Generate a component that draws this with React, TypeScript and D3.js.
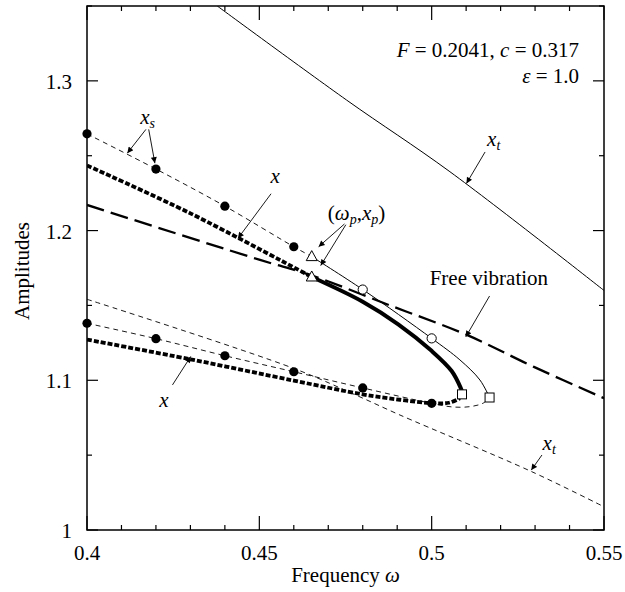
import React from "react";
import * as d3 from "d3";

type P = [number, number];

// ---- data ----
const xTickValues = d3.range(0, 16).map((i) => +(0.4 + i * 0.01).toFixed(2));
const xMajor = [0.4, 0.45, 0.5, 0.55];
const xTickLabels = ["0.4", "0.45", "0.5", "0.55"];
const yTickValues = d3.range(0, 8).map((i) => +(1 + i * 0.05).toFixed(2));
const yMajor = [1, 1.1, 1.2, 1.3];
const yTickLabels = ["1", "1.1", "1.2", "1.3"];

const xtUpper: P[] = [[0.4378, 1.35], [0.4753, 1.2872], [0.5053, 1.2393], [0.55, 1.16]];
const xtLower: P[] = [[0.4, 1.1541], [0.4599, 1.108], [0.4788, 1.0893], [0.4908, 1.0768], [0.529, 1.039], [0.55, 1.0155]];
const freeVibration: P[] = [[0.4, 1.2171], [0.4502, 1.1804], [0.4649, 1.1703], [0.4879, 1.150], [0.5102, 1.1303], [0.5295, 1.1091], [0.55, 1.088]];

const xUpperDotted: P[] = [[0.4, 1.2435], [0.43, 1.2115], [0.4652, 1.169]];
const xSolid: P[] = [[0.4652, 1.169], [0.48, 1.1525], [0.4903, 1.1374], [0.4998, 1.12], [0.5058, 1.1062], [0.5085, 1.0945], [0.5088, 1.0925]];
const xLowerDotted: P[] = [[0.4, 1.1272], [0.43, 1.114], [0.46, 1.0998], [0.48, 1.0906], [0.4908, 1.087], [0.5, 1.0848], [0.505, 1.085], [0.5082, 1.088]];

const xsUpperDashed: P[] = [[0.4, 1.2646], [0.42, 1.2411], [0.44, 1.2163], [0.46, 1.1892], [0.4652, 1.1826]];
const xsUpperSolid: P[] = [[0.4652, 1.1826], [0.48, 1.1606], [0.5, 1.128], [0.5082, 1.1136], [0.514, 1.1002], [0.5168, 1.0885]];
const xsLowerDashed: P[] = [[0.4, 1.1381], [0.42, 1.1278], [0.44, 1.1164], [0.46, 1.1057], [0.48, 1.0949], [0.5, 1.0846], [0.506, 1.0822], [0.5111, 1.0824], [0.515, 1.0848], [0.5168, 1.0885]];

const filledCircles: P[] = [[0.4, 1.2646], [0.42, 1.2411], [0.44, 1.2163], [0.46, 1.1892], [0.4, 1.1381], [0.42, 1.1278], [0.44, 1.1164], [0.46, 1.1057], [0.48, 1.0949], [0.5, 1.0846]];
const openCircles: P[] = [[0.48, 1.1606], [0.5, 1.128]];
const triangles: P[] = [[0.4652, 1.1826], [0.4652, 1.169]];
const squares: P[] = [[0.5088, 1.0906], [0.5168, 1.0885]];

// arrows: [from, to]
const arrows: [P, P][] = [
  [[0.4171, 1.2676], [0.4117, 1.2517]],
  [[0.4179, 1.2676], [0.4197, 1.245]],
  [[0.4534, 1.2246], [0.4438, 1.1948]],
  [[0.4747, 1.2044], [0.4672, 1.1892]],
  [[0.4751, 1.2039], [0.4678, 1.1766]],
  [[0.5155, 1.2525], [0.5101, 1.2315]],
  [[0.5168, 1.1563], [0.5099, 1.129]],
  [[0.4248, 1.0969], [0.4301, 1.1159]],
  [[0.532, 1.0501], [0.5289, 1.04]],
];

const W = 625, H = 592;
const L = 87, R = 604, T = 6, B = 530;
const FONT = '"Liberation Serif", "Times New Roman", Times, serif';
const FS = 21;
const SUB = 14;

export default function App() {
  const x = d3.scaleLinear().domain([0.4, 0.55]).range([L, R]);
  const y = d3.scaleLinear().domain([1, 1.35]).range([B, T]);
  const lineCR = d3.line<P>().x((d) => x(d[0])).y((d) => y(d[1])).curve(d3.curveCatmullRom.alpha(0.5));

  const isMajor = (v: number, arr: number[]) => arr.some((m) => Math.abs(m - v) < 1e-9);
  const tri = (cx: number, cy: number, s: number) =>
    `M${cx},${cy - s * 0.6}L${cx + s * 0.55},${cy + s * 0.4}L${cx - s * 0.55},${cy + s * 0.4}Z`;
  const ts: React.CSSProperties = { fontFamily: FONT };

  return (
    <svg width={W} height={H} style={{ position: "absolute", left: 0, top: 0, background: "#fff", fontFamily: FONT }}>
      <defs>
        <clipPath id="plot">
          <rect x={L} y={T} width={R - L} height={B - T} />
        </clipPath>
        <marker id="ah" viewBox="0 0 10 10" refX="10" refY="5" markerWidth="8" markerHeight="6" markerUnits="userSpaceOnUse" orient="auto">
          <path d="M0,0L10,5L0,10Z" fill="#000" />
        </marker>
      </defs>
      <rect width={W} height={H} fill="#fff" />

      <g clipPath="url(#plot)" fill="none" stroke="#000">
        <path d={lineCR(xtUpper) || ""} strokeWidth={1} />
        <path d={lineCR(xtLower) || ""} strokeWidth={0.9} strokeDasharray="5,4" />
        <path d={lineCR(freeVibration) || ""} strokeWidth={2.3} strokeDasharray="18,7" />
        <path d={lineCR(xsUpperDashed) || ""} strokeWidth={0.9} strokeDasharray="5,4" />
        <path d={lineCR(xsUpperSolid) || ""} strokeWidth={1} />
        <path d={lineCR(xsLowerDashed) || ""} strokeWidth={0.9} strokeDasharray="5,4" />
        <path d={lineCR(xUpperDotted) || ""} strokeWidth={3.8} strokeDasharray="5,2" />
        <path d={lineCR(xSolid) || ""} strokeWidth={4} />
        <path d={lineCR(xLowerDotted) || ""} strokeWidth={3.8} strokeDasharray="5,2" />
      </g>

      {filledCircles.map((d, i) => (
        <circle key={"fc" + i} cx={x(d[0])} cy={y(d[1])} r={4.6} fill="#000" />
      ))}
      {openCircles.map((d, i) => (
        <circle key={"oc" + i} cx={x(d[0])} cy={y(d[1])} r={4.6} fill="#fff" stroke="#000" strokeWidth={1} />
      ))}
      {triangles.map((d, i) => (
        <path key={"tr" + i} d={tri(x(d[0]), y(d[1]), 10)} fill="#fff" stroke="#000" strokeWidth={1} />
      ))}
      {squares.map((d, i) => (
        <rect key={"sq" + i} x={x(d[0]) - 4.5} y={y(d[1]) - 4.5} width={9} height={9} fill="#fff" stroke="#000" strokeWidth={1} />
      ))}

      {arrows.map((a, i) => (
        <line key={"ar" + i} x1={x(a[0][0])} y1={y(a[0][1])} x2={x(a[1][0])} y2={y(a[1][1])} stroke="#000" strokeWidth={0.9} markerEnd="url(#ah)" />
      ))}

      {/* frame */}
      <rect x={L} y={T} width={R - L} height={B - T} fill="none" stroke="#000" strokeWidth={1.5} />
      {xTickValues.map((v) => {
        const len = isMajor(v, xMajor) ? 14 : 5;
        return (
          <g key={"xt" + v} stroke="#000" strokeWidth={1.2}>
            <line x1={x(v)} x2={x(v)} y1={B} y2={B - len} />
            <line x1={x(v)} x2={x(v)} y1={T} y2={T + len} />
          </g>
        );
      })}
      {yTickValues.map((v) => {
        const len = isMajor(v, yMajor) ? 11 : 5;
        return (
          <g key={"yt" + v} stroke="#000" strokeWidth={1.2}>
            <line x1={L} x2={L + len} y1={y(v)} y2={y(v)} />
            <line x1={R} x2={R - len} y1={y(v)} y2={y(v)} />
          </g>
        );
      })}
      {xMajor.map((v, i) => (
        <text key={"xl" + v} style={ts} x={x(v)} y={B + 30} textAnchor="middle" fontSize={FS}>{xTickLabels[i]}</text>
      ))}
      {yMajor.map((v, i) => (
        <text key={"yl" + v} style={ts} x={L - 15} y={y(v) + 8} textAnchor="end" fontSize={FS}>{yTickLabels[i]}</text>
      ))}
      <text style={ts} x={(L + R) / 2} y={582} textAnchor="middle" fontSize={FS}>
        Frequency <tspan fontStyle="italic">ω</tspan>
      </text>
      <text style={ts} transform={`translate(29,271) rotate(-90)`} textAnchor="middle" fontSize={FS}>Amplitudes</text>

      {/* parameter box */}
      <text style={ts} x={579} y={57} textAnchor="end" fontSize={FS}>
        <tspan fontStyle="italic">F</tspan> = 0.2041, <tspan fontStyle="italic">c</tspan> = 0.317
      </text>
      <text style={ts} x={579} y={83} textAnchor="end" fontSize={FS}>
        <tspan fontStyle="italic">ε</tspan> = 1.0
      </text>

      {/* annotations */}
      <text style={ts} x={x(0.4176)} y={y(1.2745) + 5} textAnchor="middle" fontSize={FS} fontStyle="italic">
        x<tspan fontSize={SUB} dy={4}>s</tspan>
      </text>
      <text style={ts} x={x(0.4546)} y={y(1.2348) + 5} textAnchor="middle" fontSize={FS} fontStyle="italic">x</text>
      <text style={ts} x={x(0.4782)} y={y(1.2112) + 6} textAnchor="middle" fontSize={FS}>
        (<tspan fontStyle="italic">ω</tspan><tspan fontSize={SUB} dy={4} fontStyle="italic">p</tspan><tspan dy={-4}>,</tspan><tspan fontStyle="italic">x</tspan><tspan fontSize={SUB} dy={4} fontStyle="italic">p</tspan><tspan dy={-4}>)</tspan>
      </text>
      <text style={ts} x={x(0.518)} y={y(1.2601) + 5} textAnchor="middle" fontSize={FS} fontStyle="italic">
        x<tspan fontSize={SUB} dy={4}>t</tspan>
      </text>
      <text style={ts} x={x(0.5166)} y={y(1.1677) + 6} textAnchor="middle" fontSize={FS}>Free vibration</text>
      <text style={ts} x={x(0.4223)} y={y(1.0855) + 5} textAnchor="middle" fontSize={FS} fontStyle="italic">x</text>
      <text style={ts} x={x(0.5341)} y={y(1.0569) + 5} textAnchor="middle" fontSize={FS} fontStyle="italic">
        x<tspan fontSize={SUB} dy={4}>t</tspan>
      </text>
    </svg>
  );
}
